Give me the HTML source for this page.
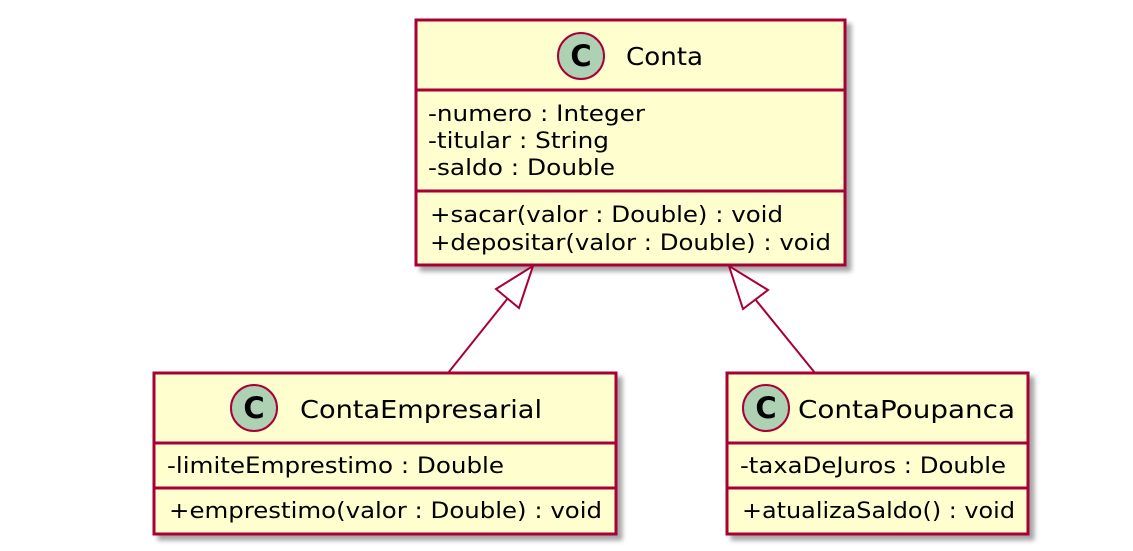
<!DOCTYPE html>
<html><head><meta charset="utf-8"><style>
html,body{margin:0;padding:0;background:#fff;width:1133px;height:551px;overflow:hidden}
text{font-family:"DejaVu Sans","Liberation Sans",sans-serif;fill:#000}
</style></head><body>
<svg width="1133" height="551" viewBox="0 0 1133 551" xmlns="http://www.w3.org/2000/svg">
<defs><filter id="sh" x="-10%" y="-10%" width="130%" height="130%"><feDropShadow dx="5" dy="5" stdDeviation="2.5" flood-color="#000" flood-opacity="0.35"/></filter></defs>

<!-- Conta -->
<rect x="416" y="20" width="429" height="245" fill="#FEFECE" stroke="#A80036" stroke-width="3" filter="url(#sh)"/>
<line x1="416" y1="90" x2="845" y2="90" stroke="#A80036" stroke-width="3"/>
<line x1="416" y1="191" x2="845" y2="191" stroke="#A80036" stroke-width="3"/>
<circle cx="581" cy="56" r="23" fill="#ADD1B2" stroke="#A80036" stroke-width="2"/>
<text x="581" y="66" font-size="29" font-weight="bold" text-anchor="middle">C</text>
<text x="626" y="65" font-size="25" textLength="77" lengthAdjust="spacingAndGlyphs">Conta</text>
<text x="428" y="121" font-size="22.5" textLength="217" lengthAdjust="spacingAndGlyphs">-numero : Integer</text>
<text x="428" y="148" font-size="22.5" textLength="181" lengthAdjust="spacingAndGlyphs">-titular : String</text>
<text x="428" y="175" font-size="22.5" textLength="187" lengthAdjust="spacingAndGlyphs">-saldo : Double</text>
<text x="430" y="222" font-size="22.5" textLength="353" lengthAdjust="spacingAndGlyphs">+sacar(valor : Double) : void</text>
<text x="430" y="250" font-size="22.5" textLength="401" lengthAdjust="spacingAndGlyphs">+depositar(valor : Double) : void</text>

<!-- connectors -->
<line x1="508" y1="298" x2="448" y2="373" stroke="#A80036" stroke-width="2"/>
<polygon points="533,266 496,289 519,308" fill="#fff" stroke="#A80036" stroke-width="2"/>
<line x1="755" y1="299" x2="815" y2="373" stroke="#A80036" stroke-width="2"/>
<polygon points="729,266 743,309 768,290" fill="#fff" stroke="#A80036" stroke-width="2"/>

<!-- ContaEmpresarial -->
<rect x="154" y="373" width="462" height="161" fill="#FEFECE" stroke="#A80036" stroke-width="3" filter="url(#sh)"/>
<line x1="154" y1="443" x2="616" y2="443" stroke="#A80036" stroke-width="3"/>
<line x1="154" y1="488" x2="616" y2="488" stroke="#A80036" stroke-width="3"/>
<circle cx="254" cy="408" r="23" fill="#ADD1B2" stroke="#A80036" stroke-width="2"/>
<text x="254" y="418" font-size="29" font-weight="bold" text-anchor="middle">C</text>
<text x="300" y="418" font-size="25" textLength="242" lengthAdjust="spacingAndGlyphs">ContaEmpresarial</text>
<text x="167" y="473" font-size="22.5" textLength="337" lengthAdjust="spacingAndGlyphs">-limiteEmprestimo : Double</text>
<text x="169" y="518" font-size="22.5" textLength="433" lengthAdjust="spacingAndGlyphs">+emprestimo(valor : Double) : void</text>

<!-- ContaPoupanca -->
<rect x="727" y="373" width="301" height="161" fill="#FEFECE" stroke="#A80036" stroke-width="3" filter="url(#sh)"/>
<line x1="727" y1="443" x2="1028" y2="443" stroke="#A80036" stroke-width="3"/>
<line x1="727" y1="488" x2="1028" y2="488" stroke="#A80036" stroke-width="3"/>
<circle cx="766" cy="408" r="23" fill="#ADD1B2" stroke="#A80036" stroke-width="2"/>
<text x="766" y="418" font-size="29" font-weight="bold" text-anchor="middle">C</text>
<text x="798" y="418" font-size="25" textLength="217" lengthAdjust="spacingAndGlyphs">ContaPoupanca</text>
<text x="740" y="473" font-size="22.5" textLength="266" lengthAdjust="spacingAndGlyphs">-taxaDeJuros : Double</text>
<text x="742" y="518" font-size="22.5" textLength="273" lengthAdjust="spacingAndGlyphs">+atualizaSaldo() : void</text>
</svg>
</body></html>
